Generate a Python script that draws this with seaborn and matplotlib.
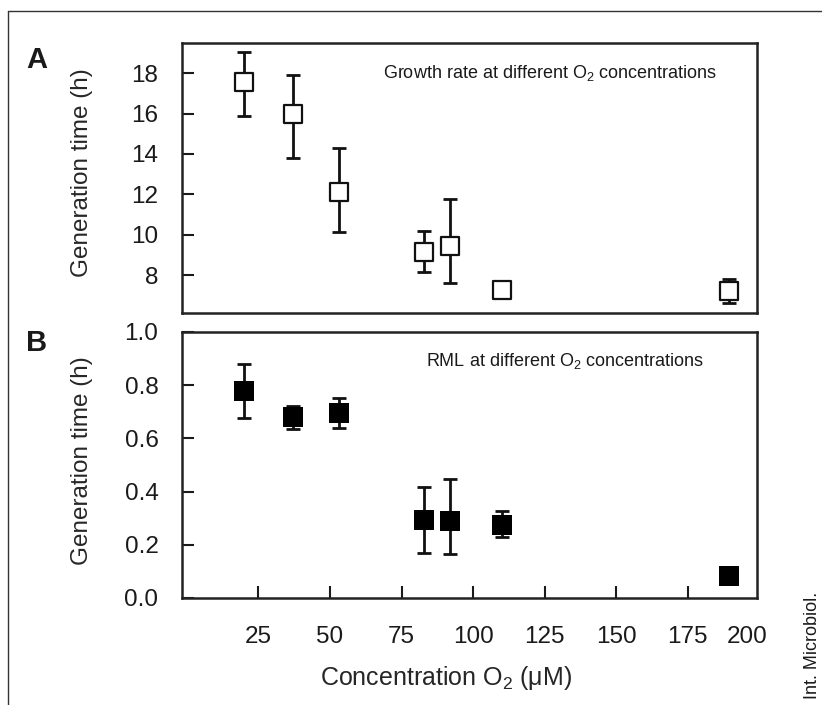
import matplotlib
matplotlib.use('Agg')
import matplotlib.pyplot as plt
import seaborn as sns
import pandas as pd
from matplotlib.lines import Line2D

# O2 concentrations (uM), same for both panels
conc = [20, 37, 53, 83, 92, 110, 189.5]

# panel A - growth rate
gen_a = [17.55, 16.0, 12.13, 9.12, 9.45, 7.25, 7.22]
err_a_lo = [1.68, 2.2, 2.0, 0.97, 1.86, 0.0, 0.58]
err_a_hi = [1.5, 1.9, 2.17, 1.08, 2.33, 0.0, 0.6]

# panel B - RML
gen_b = [0.78, 0.68, 0.695, 0.295, 0.29, 0.276, 0.081]
err_b_lo = [0.103, 0.045, 0.055, 0.127, 0.124, 0.048, 0.0]
err_b_hi = [0.098, 0.042, 0.055, 0.121, 0.156, 0.05, 0.0]

x_ticks = [25, 50, 75, 100, 125, 150, 175]
x_labels = ['25', '50', '75', '100', '125', '150', '175']

sns.set_style('ticks')
plt.rcParams['font.family'] = ['Liberation Sans', 'DejaVu Sans']
plt.rcParams['mathtext.fontset'] = 'custom'
plt.rcParams['mathtext.rm'] = 'Liberation Sans'
plt.rcParams['axes.linewidth'] = 1.8
plt.rcParams['text.color'] = '#1a1a1a'

fig = plt.figure(figsize=(8.22, 7.05), dpi=100)
ax_a = fig.add_axes([0.2214, 0.556, 0.6995, 0.383])
ax_b = fig.add_axes([0.2214, 0.1518, 0.6995, 0.3773])

df_a = pd.DataFrame({'conc': conc, 'gen': gen_a})
df_b = pd.DataFrame({'conc': conc, 'gen': gen_b})

# error bars under the markers
ax_a.errorbar(conc, gen_a, yerr=[err_a_lo, err_a_hi], fmt='none', ecolor='#111111',
              elinewidth=2.0, capsize=5, capthick=2.0, zorder=2)
sns.scatterplot(data=df_a, x='conc', y='gen', marker='s', s=150, color='white',
                edgecolor='#111111', linewidth=1.6, ax=ax_a, zorder=3)

ax_b.errorbar(conc, gen_b, yerr=[err_b_lo, err_b_hi], fmt='none', ecolor='#111111',
              elinewidth=2.0, capsize=5, capthick=2.0, zorder=2)
sns.scatterplot(data=df_b, x='conc', y='gen', marker='s', s=200, color='black',
                edgecolor='black', linewidth=0, ax=ax_b, zorder=3)

for ax in (ax_a, ax_b):
    ax.set_xlim(-1.7, 199.2)
    for sp in ax.spines.values():
        sp.set_color('#222222')
    ax.tick_params(axis='y', direction='in', length=8.5, width=1.5, pad=17,
                   labelsize=17.5, colors='#1a1a1a')
    ax.set_xlabel('')

# panel A
ax_a.set_ylim(6.12, 19.5)
ax_a.set_yticks([8, 10, 12, 14, 16, 18])
ax_a.tick_params(axis='x', bottom=False, labelbottom=False)
ax_a.set_ylabel('Generation time (h)', fontsize=17.5)
ax_a.yaxis.set_label_coords(-0.155, 0.52)
ax_a.text(0.35, 0.89, 'Growth rate at different O$_\\mathregular{2}$ concentrations',
          transform=ax_a.transAxes, fontsize=13, ha='left', va='center')

# panel B
ax_b.set_ylim(0, 1.0)
ax_b.set_yticks([0.0, 0.2, 0.4, 0.6, 0.8, 1.0])
ax_b.set_yticklabels(['0.0', '0.2', '0.4', '0.6', '0.8', '1.0'])
# last label "200" sits just inside the right edge, without a tick mark
ax_b.set_xticks(x_ticks + [195.7])
ax_b.set_xticklabels(x_labels + ['200'])
ax_b.tick_params(axis='x', direction='in', length=8.5, width=1.5, pad=20,
                 labelsize=17.5, colors='#1a1a1a')
ax_b.xaxis.get_major_ticks()[-1].tick1line.set_visible(False)
ax_b.set_ylabel('Generation time (h)', fontsize=17.5)
ax_b.yaxis.set_label_coords(-0.155, 0.518)
ax_b.set_xlabel('Concentration O$_\\mathregular{2}$ (μM)', fontsize=18)
ax_b.xaxis.set_label_coords(0.459, -0.25)
ax_b.text(0.425, 0.89, 'RML at different O$_\\mathregular{2}$ concentrations',
          transform=ax_b.transAxes, fontsize=13, ha='left', va='center')

# panel letters
fig.text(0.045, 0.915, 'A', fontsize=21, fontweight='bold', ha='center', va='center')
fig.text(0.045, 0.5135, 'B', fontsize=21, fontweight='bold', ha='center', va='center')

# journal credit
fig.text(0.989, 0.085, 'Int. Microbiol.', fontsize=13, rotation=90,
         ha='center', va='center')

# thin frame, top and left only
fig.add_artist(Line2D([0.0097, 1.0], [0.9844, 0.9844], transform=fig.transFigure,
                      color='#333333', linewidth=1.0))
fig.add_artist(Line2D([0.0097, 0.0097], [0.0, 0.9844], transform=fig.transFigure,
                      color='#333333', linewidth=1.0))

fig.savefig('out.png', dpi=100)
